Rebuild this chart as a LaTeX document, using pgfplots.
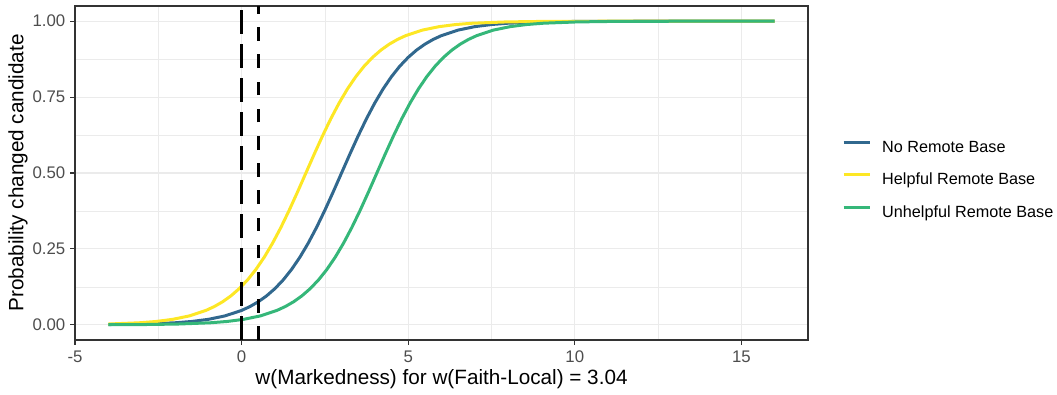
\documentclass[border=0pt]{standalone}
\usepackage{pgfplots}
\pgfplotsset{compat=1.18}
\usepackage{fontspec}
\setmainfont{Liberation Sans}
\definecolor{cblue}{HTML}{31688E}
\definecolor{cyellow}{HTML}{FDE725}
\definecolor{cgreen}{HTML}{35B779}
\definecolor{gridc}{HTML}{EBEBEB}
\definecolor{framec}{HTML}{333333}
\definecolor{ticktext}{HTML}{4D4D4D}
\begin{document}
\begin{tikzpicture}
\useasboundingbox (-75pt,-54pt) rectangle (982pt,340pt);
\begin{axis}[
  at={(0pt,0pt)}, anchor=south west,
  scale only axis, width=733pt, height=334pt,
  xmin=-5, xmax=17, ymin=-0.05, ymax=1.05,
  xtick={-5,0,5,10,15}, xticklabels={-5,0,5,10,15},
  ytick={0,0.25,0.5,0.75,1}, yticklabels={0.00,0.25,0.50,0.75,1.00},
  minor xtick={-2.5,2.5,7.5,12.5}, minor ytick={0.125,0.375,0.625,0.875},
  grid=both,
  major grid style={draw=gridc, line width=1.1pt},
  minor grid style={draw=gridc, line width=0.55pt},
  tick align=outside, xtick pos=bottom, ytick pos=left,
  major tick length=4.5pt, minor tick length=0pt,
  every tick/.style={draw=framec, line width=1.1pt},
  axis line style={draw=framec, line width=1.1pt},
  /pgf/number format/assume math mode=true,
  xticklabel style={font=\fontsize{16.8}{18}\selectfont, text=ticktext, anchor=north, inner sep=0pt, yshift=-6pt},
  yticklabel style={font=\fontsize{16.8}{18}\selectfont, text=ticktext, anchor=east, inner sep=0pt, xshift=-5pt},
  xlabel={w(Markedness) for w(Faith-Local) = 3.04},
  ylabel={Probability changed candidate},
  xlabel style={font=\fontsize{20.7}{24}\selectfont, at={(axis description cs:0.5,0)}, anchor=center, yshift=-39pt, inner sep=0pt},
  ylabel style={font=\fontsize{20.7}{24}\selectfont, at={(axis description cs:0,0.5)}, anchor=center, yshift=57pt, inner sep=0pt},
  legend style={at={(1,0.5)}, anchor=west, xshift=34pt, yshift=-7.5pt, draw=none, fill=none, inner sep=0pt,
    font=\fontsize{16.2}{18}\selectfont, row sep=16.5pt,
    nodes={inner sep=0pt, text height=12pt, text depth=4pt},
    /tikz/every odd column/.append style={column sep=11pt}},
  legend cell align=left,
  legend image code/.code={\draw[#1, line width=3pt] (0pt,5.9pt) -- (26pt,5.9pt);},
]
\addplot[cblue, line width=3pt] coordinates {
(-4,0.00091) (-3,0.00247) (-2,0.00669) (-1.5,0.01099) (-1,0.01799) (-0.5,0.02931)
(0,0.04743) (0.25,0.06009) (0.5,0.07586) (0.75,0.09535) (1,0.11920) (1.25,0.14805)
(1.5,0.18243) (1.75,0.22270) (2,0.26894) (2.25,0.32082) (2.5,0.37754) (2.75,0.43782)
(3,0.5) (3.25,0.56218) (3.5,0.62246) (3.75,0.67918) (4,0.73106) (4.25,0.77730)
(4.5,0.81757) (4.75,0.85195) (5,0.88080) (5.25,0.90465) (5.5,0.92414) (5.75,0.93991)
(6,0.95257) (6.5,0.97069) (7,0.98201) (7.5,0.98901) (8,0.99331) (9,0.99753)
(10,0.99909) (11,0.99966) (13,0.99995) (16,1.0)
};
\addlegendentry{No Remote Base}
\addplot[cyellow, line width=3pt] coordinates {
(-4,0.00265) (-3.07,0.00669) (-2.57,0.01099) (-2.07,0.01799) (-1.57,0.02931) (-1.07,0.04743)
(-0.82,0.06009) (-0.57,0.07586) (-0.32,0.09535) (-0.07,0.11920) (0.18,0.14805) (0.43,0.18243)
(0.68,0.22270) (0.93,0.26894) (1.18,0.32082) (1.43,0.37754) (1.68,0.43782) (1.93,0.5)
(2.18,0.56218) (2.43,0.62246) (2.68,0.67918) (2.93,0.73106) (3.18,0.77730) (3.43,0.81757)
(3.68,0.85195) (3.93,0.88080) (4.18,0.90465) (4.43,0.92414) (4.68,0.93991) (4.93,0.95257)
(5.43,0.97069) (5.93,0.98201) (6.43,0.98901) (6.93,0.99331) (7.93,0.99753) (8.93,0.99909)
(9.93,0.99966) (11.93,0.99995) (16,1.0)
};
\addlegendentry{Helpful Remote Base}
\addplot[cgreen, line width=3pt] coordinates {
(-4,0.00032) (-2.94,0.00091) (-1.94,0.00247) (-0.94,0.00669) (-0.44,0.01099) (0.06,0.01799)
(0.56,0.02931) (1.06,0.04743) (1.31,0.06009) (1.56,0.07586) (1.81,0.09535) (2.06,0.11920)
(2.31,0.14805) (2.56,0.18243) (2.81,0.22270) (3.06,0.26894) (3.31,0.32082) (3.56,0.37754)
(3.81,0.43782) (4.06,0.5) (4.31,0.56218) (4.56,0.62246) (4.81,0.67918) (5.06,0.73106)
(5.31,0.77730) (5.56,0.81757) (5.81,0.85195) (6.06,0.88080) (6.31,0.90465) (6.56,0.92414)
(6.81,0.93991) (7.06,0.95257) (7.56,0.97069) (8.06,0.98201) (8.56,0.98901) (9.06,0.99331)
(10.06,0.99753) (11.06,0.99909) (12.06,0.99966) (14.06,0.99995) (16,0.99999)
};
\addlegendentry{Unhelpful Remote Base}
\addplot[black, line width=3.4pt, dash pattern=on 24pt off 10pt, forget plot] coordinates {(0,-0.05) (0,1.05)};
\addplot[black, line width=3.4pt, dash pattern=on 13.6pt off 13.6pt, forget plot] coordinates {(0.5,-0.05) (0.5,1.05)};
\end{axis}
\end{tikzpicture}
\end{document}
